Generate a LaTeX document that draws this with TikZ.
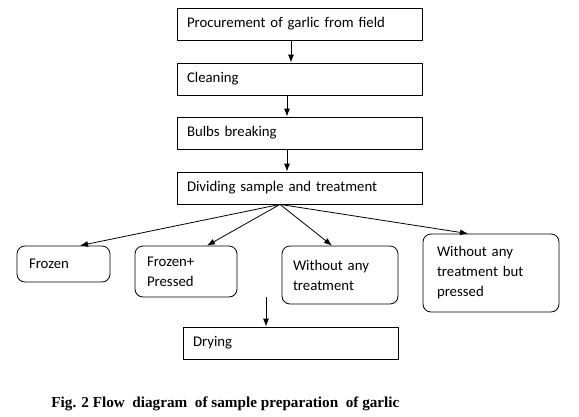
\documentclass[tikz,border=0pt]{standalone}
\usepackage{fontspec}
\setmainfont{Carlito}
\newfontfamily\capfont{Liberation Serif}
\usetikzlibrary{arrows.meta}

\begin{document}
\begin{tikzpicture}[x=1pt, y=-1pt, line width=0.8pt, >={Latex[length=8pt,width=6pt]},
    stepbox/.style={draw, rectangle, minimum height=32pt, inner xsep=10pt, align=left,
        font=\fontsize{14.8}{20}\selectfont},
    roundbox/.style={draw, rectangle, rounded corners=8pt, align=left,
        font=\fontsize{14.8}{20}\selectfont}]
    \useasboundingbox (0,0) rectangle (579,416);
    % main steps
    \node[stepbox, text width=225pt] (proc) at (299.5,24) {Procurement of garlic from field};
    \node[stepbox, text width=225pt] (clean) at (299.5,79) {Cleaning};
    \node[stepbox, text width=225pt] (bulb) at (299.5,133) {Bulbs breaking};
    \node[stepbox, text width=225pt] (divide) at (299.5,188) {Dividing sample and treatment};
    \draw[->] ([xshift=-8.5pt]proc.south) -- ([xshift=-8.5pt]clean.north);
    \draw[->] ([xshift=-12.5pt]clean.south) -- ([xshift=-12.5pt]bulb.north);
    \draw[->] ([xshift=-12.5pt]bulb.south) -- ([xshift=-12.5pt]divide.north);
    % treatments
    \node[roundbox, inner xsep=12pt, text width=69pt, minimum height=36pt] (frozen) at (63.5,264) {Frozen};
    \node[roundbox, inner xsep=12pt, text width=78pt, minimum height=51pt] (frozpress) at (186,271.5) {Frozen+\\Pressed};
    \node[roundbox, inner xsep=11pt, text width=94pt, minimum height=58pt] (without) at (340,275) {Without any\\treatment};
    \node[roundbox, inner xsep=14pt, text width=108pt, minimum height=78pt] (withpress) at (491,273) {Without any\\treatment but\\pressed};
    \draw[->] ([xshift=-19.5pt]divide.south) -- ([xshift=16.5pt]frozen.north);
    \draw[->] ([xshift=-19.5pt]divide.south) -- ([xshift=21pt]frozpress.north);
    \draw[->] ([xshift=-19.5pt]divide.south) -- ([xshift=-8pt]without.north);
    \draw[->] ([xshift=-19.5pt]divide.south) -- ([xshift=-23pt]withpress.north);
    % drying
    \node[stepbox, text width=195pt] (drying) at (290.5,343) {Drying};
    \coordinate (dry0) at (266,297);
    \draw[->] (dry0) -- ([xshift=-24.5pt]drying.north);
    % caption
    \node[anchor=base west, inner sep=0pt, font=\capfont\bfseries\fontsize{15.2}{18}\selectfont] (caption) at (51,407)
        {Fig. 2 Flow~ diagram~ of sample preparation~ of garlic};
\end{tikzpicture}
\end{document}
